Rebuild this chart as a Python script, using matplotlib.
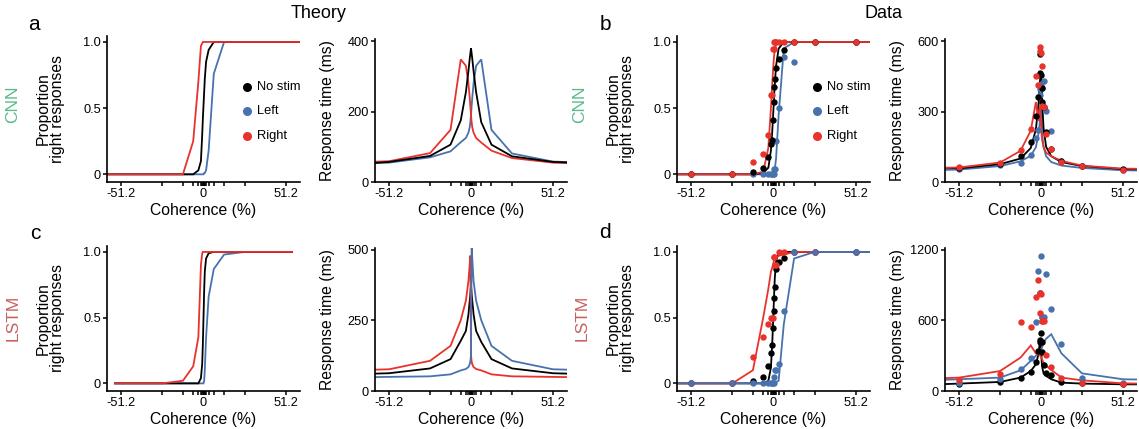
"""Theory vs data: psychometric and chronometric curves for CNN / LSTM models."""

import matplotlib

matplotlib.use("Agg")
import matplotlib.pyplot as plt

W, H = 1139, 429

BLACK = "#000000"
BLUE = "#4872ad"
RED = "#e8322c"
CNN_C = "#5cb98b"
LSTM_C = "#c8605f"

plt.rcParams["font.family"] = ["Liberation Sans", "DejaVu Sans"]

# coherence levels (%)
COH = [-51.2, -25.6, -12.8, -6.4, -3.2, -1.6, -0.8, -0.4, 0,
       0.4, 0.8, 1.6, 3.2, 6.4, 12.8, 25.6, 51.2]
# model curves carry one extra point at each end (past the axis edge)
COH_LINE = [-64] + COH + [64]
COH_LINE_C = [-55] + COH + [55]

MAJOR = [-51.2, 0, 51.2]
MINOR = [c for c in COH if c not in MAJOR]

# ---- a: theory, CNN ----
A_P_NOSTIM = [0, 0, 0, 0, 0, 0.03, 0.1, 0.3, 0.42, 0.52, 0.62, 0.72, 0.85, 0.94, 1, 1, 1, 1, 1]
A_P_LEFT = [0, 0, 0, 0, 0, 0, 0, 0, 0, 0, 0.01, 0.01, 0.03, 0.18, 0.76, 1, 1, 1, 1]
A_P_RIGHT = [0, 0, 0, 0, 0.25, 0.7, 0.97, 0.99, 1, 1, 1, 1, 1, 1, 1, 1, 1, 1, 1]
A_RT_NOSTIM = [53, 57, 74, 106, 175, 255, 315, 350, 365, 380, 365, 350, 315, 255, 170, 106, 73, 57, 55]
A_RT_LEFT = [53, 55, 70, 87, 113, 125, 140, 155, 170, 190, 215, 240, 280, 330, 348, 148, 81, 58, 56]
A_RT_RIGHT = [57, 59, 82, 148, 348, 330, 280, 240, 215, 190, 170, 155, 140, 125, 112, 89, 68, 55, 53]

# ---- c: theory, LSTM ----
C_P_NOSTIM = [0, 0, 0, 0, 0, 0, 0.04, 0.15, 0.3, 0.5, 0.7, 0.85, 0.95, 0.99, 1, 1, 1, 1, 1]
C_P_LEFT = [0, 0, 0, 0, 0, 0, 0, 0, 0, 0, 0.02, 0.1, 0.35, 0.66, 0.87, 0.98, 1, 1, 1]
C_P_RIGHT = [0, 0, 0, 0.02, 0.13, 0.35, 0.9, 0.99, 1, 1, 1, 1, 1, 1, 1, 1, 1, 1, 1]
C_RT_NOSTIM = [61, 63, 80, 113, 178, 213, 272, 320, 344, 375, 344, 320, 272, 213, 174, 113, 80, 63, 61]
C_RT_LEFT = [49, 50, 52, 59, 73, 78, 85, 95, 105, 127, 520, 470, 390, 320, 251, 160, 107, 77, 75]
C_RT_RIGHT = [75, 77, 107, 160, 251, 320, 390, 450, 480, 127, 105, 95, 85, 78, 73, 59, 52, 50, 49]

# ---- b: data, CNN ----
B_P_NOSTIM_PTS = [0, 0, 0.02, 0.05, 0.13, 0.23, 0.26, 0.41, 0.55, 0.66, 0.72, 0.8, 0.87, 0.94, 1, 1, 1]
B_P_LEFT_PTS = [0, 0, 0, 0, 0, 0, 0, 0, 0, 0.04, 0.04, 0.25, 0.5, 0.89, 0.85, 1, 1]
B_P_RIGHT_PTS = [0, 0, 0.09, 0.15, 0.3, 0.6, 0.6, 0.95, 0.95, 1, 1, 1, 1, 1, 1, 1, 1]
B_P_NOSTIM_FIT = [0, 0, 0, 0, 0.01, 0.05, 0.18, 0.32, 0.41, 0.5, 0.6, 0.68, 0.82, 0.95, 1, 1, 1, 1, 1]
B_P_LEFT_FIT = [0, 0, 0, 0, 0, 0, 0, 0, 0, 0.01, 0.02, 0.04, 0.12, 0.45, 0.95, 1, 1, 1, 1]
B_P_RIGHT_FIT = [0, 0, 0, 0, 0.02, 0.2, 0.5, 0.68, 0.76, 0.84, 0.9, 0.94, 0.98, 1, 1, 1, 1, 1, 1]

B_RT_NOSTIM_PTS = [60, 78, 109, 172, 283, 362, 465, 545, 458, 400, 340, 319, 212, 140, 88, 69, 55]
B_RT_LEFT_PTS = [55, 72, 83, 115, 189, 222, 369, 398, 420, 400, 334, 431, 305, 216, 90, 70, 53]
B_RT_RIGHT_PTS = [64, 83, 137, 226, 452, 412, 577, 560, 549, 494, 326, 319, 205, 140, 86, 70, 53]
B_RT_NOSTIM_FIT = [62, 58, 76, 100, 145, 224, 330, 420, 450, 455, 420, 330, 230, 150, 110, 85, 68, 55, 54]
B_RT_LEFT_FIT = [51, 53, 68, 88, 112, 148, 205, 250, 300, 330, 260, 200, 150, 110, 85, 70, 60, 50, 49]
B_RT_RIGHT_FIT = [60, 62, 83, 133, 219, 341, 260, 320, 290, 240, 200, 176, 150, 125, 110, 90, 70, 57, 56]

# ---- d: data, LSTM ----
D_P_NOSTIM_PTS = [0, 0, 0.02, 0.05, 0.13, 0.23, 0.29, 0.42, 0.55, 0.65, 0.73, 0.87, 0.92, 0.95, 1, 1, 1]
D_P_LEFT_PTS = [0, 0, 0, 0, 0, 0, 0, 0, 0, 0.05, 0.1, 0.1, 0.15, 0.55, 1, 1, 1]
D_P_RIGHT_PTS = [0, 0, 0.2, 0.35, 0.45, 0.5, 0.5, 0.5, 0.96, 0.96, 0.9, 0.9, 1, 1, 1, 1, 1]
D_P_NOSTIM_FIT = [0, 0, 0, 0, 0, 0.02, 0.12, 0.3, 0.42, 0.55, 0.68, 0.8, 0.93, 0.99, 1, 1, 1, 1, 1]
D_P_LEFT_FIT = [0, 0, 0, 0, 0, 0, 0, 0, 0, 0, 0, 0, 0.01, 0.02, 0.45, 0.95, 1, 1, 1]
D_P_RIGHT_FIT = [0, 0, 0, 0.1, 0.5, 0.72, 0.85, 0.88, 0.9, 0.92, 0.94, 0.95, 0.96, 0.97, 0.98, 1, 1, 1, 1]

D_RT_NOSTIM_PTS = [63, 80, 108, 165, 247, 341, 418, 430, 490, 418, 333, 222, 150, 140, 80, 65, 57]
D_RT_LEFT_PTS = [71, 106, 191, 282, 583, 1024, 831, 831, 1149, 631, 631, 631, 993, 700, 404, 111, 68]
D_RT_RIGHT_PTS = [94, 145, 590, 541, 800, 945, 660, 830, 825, 592, 592, 592, 305, 205, 107, 68, 63]
D_RT_NOSTIM_FIT = [57, 63, 77, 114, 170, 227, 313, 412, 400, 384, 256, 200, 150, 128, 100, 71, 63, 57, 56]
D_RT_LEFT_FIT = [94, 100, 114, 176, 256, 300, 320, 330, 335, 340, 360, 380, 410, 445, 483, 320, 150, 100, 97]
D_RT_RIGHT_FIT = [108, 114, 170, 284, 388, 320, 310, 305, 300, 290, 280, 265, 240, 215, 180, 114, 91, 65, 63]

LEGEND = [("No stim", BLACK), ("Left", BLUE), ("Right", RED)]


def add_ax(fig, left, top, right, bottom):
    """Axes from pixel box (y measured from the top)."""
    return fig.add_axes((left / W, 1 - bottom / H, (right - left) / W, (bottom - top) / H))


def style(ax, yticks, ylabels, ylim, ylabel, ylab_x):
    for s in ("top", "right"):
        ax.spines[s].set_visible(False)
    for s in ("left", "bottom"):
        ax.spines[s].set_linewidth(1.2)
    ax.set_xlim(-60, 60)
    ax.set_ylim(*ylim)
    ax.set_xticks(MAJOR)
    ax.set_xticklabels(["-51.2", "0", "51.2"])
    ax.set_xticks(MINOR, minor=True)
    ax.set_yticks(yticks)
    ax.set_yticklabels(ylabels)
    ax.tick_params(which="both", direction="out", length=3, width=1.1,
                   labelsize=9.2, pad=1.5)
    ax.set_xlabel("Coherence (%)", fontsize=11.3, labelpad=2)
    ax.set_ylabel(ylabel, fontsize=11.3, linespacing=0.95)
    ax.yaxis.set_label_coords(ylab_x, 0.5)


def psych_axes(fig, box):
    ax = add_ax(fig, *box)
    style(ax, [0, 0.5, 1.0], ["0", "0.5", "1.0"], (-0.058, 1.045),
          "Proportion\nright responses", -0.218)
    return ax


def rt_axes(fig, box, ymax, ticks):
    ax = add_ax(fig, *box)
    style(ax, ticks, [str(t) for t in ticks], (0, ymax),
          "Response time (ms)", -0.208)
    return ax


def lines(ax, x, series, lw=1.3):
    for y, c in series:
        ax.plot(x, y, color=c, lw=lw, solid_joinstyle="miter")


def points(ax, series):
    for y, c in series:
        ax.plot(COH, y, "o", color=c, ms=4.6, mec="none", clip_on=False, zorder=4)


def legend(ax):
    for (lab, c), yf in zip(LEGEND, [0.65, 0.486, 0.315]):
        ax.plot([0.725], [yf], "o", color=c, ms=6.5, mec="none",
                transform=ax.transAxes, clip_on=False)
        ax.text(0.777, yf, lab, fontsize=9.3, va="center", transform=ax.transAxes)


def main():
    fig = plt.figure(figsize=(W / 100, H / 100), dpi=100, facecolor="white")

    # row 1 (CNN)
    ax = psych_axes(fig, (107, 36, 300, 182))
    lines(ax, COH_LINE, [(A_P_LEFT, BLUE), (A_P_NOSTIM, BLACK), (A_P_RIGHT, RED)])
    legend(ax)

    ax = rt_axes(fig, (375, 39, 567, 182), 406, [0, 200, 400])
    lines(ax, COH_LINE, [(A_RT_LEFT, BLUE), (A_RT_RIGHT, RED), (A_RT_NOSTIM, BLACK)])

    ax = psych_axes(fig, (677, 36, 870, 182))
    lines(ax, COH_LINE, [(B_P_LEFT_FIT, BLUE), (B_P_NOSTIM_FIT, BLACK), (B_P_RIGHT_FIT, RED)])
    points(ax, [(B_P_LEFT_PTS, BLUE), (B_P_NOSTIM_PTS, BLACK), (B_P_RIGHT_PTS, RED)])
    legend(ax)

    ax = rt_axes(fig, (945, 39, 1137, 182), 610, [0, 300, 600])
    lines(ax, COH_LINE, [(B_RT_LEFT_FIT, BLUE), (B_RT_NOSTIM_FIT, BLACK), (B_RT_RIGHT_FIT, RED)])
    points(ax, [(B_RT_LEFT_PTS, BLUE), (B_RT_NOSTIM_PTS, BLACK), (B_RT_RIGHT_PTS, RED)])

    # row 2 (LSTM)
    ax = psych_axes(fig, (107, 246, 300, 391))
    lines(ax, COH_LINE_C, [(C_P_LEFT, BLUE), (C_P_NOSTIM, BLACK), (C_P_RIGHT, RED)])

    ax = rt_axes(fig, (375, 248, 567, 391), 507, [0, 250, 500])
    lines(ax, COH_LINE, [(C_RT_NOSTIM, BLACK), (C_RT_RIGHT, RED), (C_RT_LEFT, BLUE)])

    ax = psych_axes(fig, (677, 246, 870, 391))
    lines(ax, COH_LINE, [(D_P_NOSTIM_FIT, BLACK), (D_P_RIGHT_FIT, RED), (D_P_LEFT_FIT, BLUE)])
    points(ax, [(D_P_NOSTIM_PTS, BLACK), (D_P_RIGHT_PTS, RED), (D_P_LEFT_PTS, BLUE)])

    ax = rt_axes(fig, (945, 248, 1137, 391), 1217, [0, 600, 1200])
    lines(ax, COH_LINE, [(D_RT_NOSTIM_FIT, BLACK), (D_RT_LEFT_FIT, BLUE), (D_RT_RIGHT_FIT, RED)])
    points(ax, [(D_RT_NOSTIM_PTS, BLACK), (D_RT_LEFT_PTS, BLUE), (D_RT_RIGHT_PTS, RED)])

    # headers, panel letters, row tags
    fig.text(319 / W, 1 - 14 / H, "Theory", fontsize=13, ha="center", va="center")
    fig.text(883 / W, 1 - 14 / H, "Data", fontsize=13, ha="center", va="center")
    for lab, x, y in [("a", 34, 24), ("b", 605, 24), ("c", 35, 234), ("d", 605, 232)]:
        fig.text(x / W, 1 - y / H, lab, fontsize=15, ha="center", va="center")
    for lab, c, x, y in [("CNN", CNN_C, 13, 104), ("CNN", CNN_C, 580, 104),
                         ("LSTM", LSTM_C, 13, 318), ("LSTM", LSTM_C, 582, 318)]:
        fig.text(x / W, 1 - y / H, lab, fontsize=12.5, color=c, rotation=90,
                 ha="center", va="center")

    fig.savefig("out.png", dpi=100, facecolor="white")
    plt.close(fig)


if __name__ == "__main__":
    main()
